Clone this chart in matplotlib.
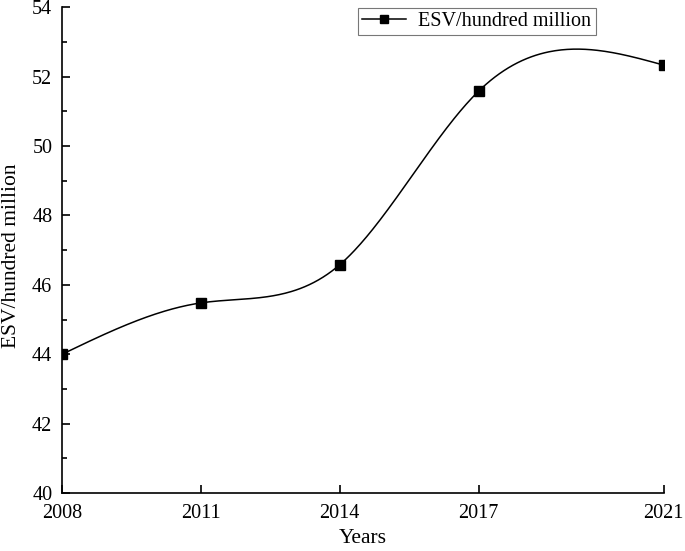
import numpy as np
import matplotlib.pyplot as plt
from matplotlib.ticker import MultipleLocator

years = [2008, 2011, 2014, 2017, 2021]
esv = [44.0, 45.48, 46.58, 51.58, 52.33]


def natural_spline(x, y, xs):
    # plain natural cubic spline, like Origin's "Spline" connection
    x = np.asarray(x, float)
    y = np.asarray(y, float)
    n = len(x)
    h = np.diff(x)
    A = np.zeros((n, n))
    b = np.zeros(n)
    A[0, 0] = 1
    A[-1, -1] = 1
    for i in range(1, n - 1):
        A[i, i - 1] = h[i - 1]
        A[i, i] = 2 * (h[i - 1] + h[i])
        A[i, i + 1] = h[i]
        b[i] = 3 * ((y[i + 1] - y[i]) / h[i] - (y[i] - y[i - 1]) / h[i - 1])
    c = np.linalg.solve(A, b)
    out = np.empty_like(xs)
    for k, t in enumerate(xs):
        i = min(np.searchsorted(x, t, side="right") - 1, n - 2)
        i = max(i, 0)
        dx = t - x[i]
        bb = (y[i + 1] - y[i]) / h[i] - h[i] * (2 * c[i] + c[i + 1]) / 3
        d = (c[i + 1] - c[i]) / (3 * h[i])
        out[k] = y[i] + bb * dx + c[i] * dx ** 2 + d * dx ** 3
    return out


plt.rcParams['font.family'] = ['Liberation Serif', 'DejaVu Serif']

fig = plt.figure(figsize=(6.85, 5.51), dpi=100)
ax = fig.add_axes([0.0905, 0.105, 0.8785, 0.882])

xs = np.linspace(years[0], years[-1], 400)
ax.plot(xs, natural_spline(years, esv, xs), color='black', lw=1.1)
ax.plot(years, esv, 's', color='black', ms=7)
# legend handle: line with marker
ax.plot([], [], '-s', color='black', lw=1.1, ms=6, label='ESV/hundred million')

ax.set_xlim(2008, 2021)
ax.set_ylim(40, 54)
ax.set_xticks(years)
ax.yaxis.set_major_locator(MultipleLocator(2))
ax.yaxis.set_minor_locator(MultipleLocator(1))
ax.tick_params(which='both', direction='in', labelsize=14.5, width=1.2)
ax.tick_params(which='major', length=6)
ax.tick_params(which='minor', length=3.5)
ax.tick_params(axis='y', pad=7)
ax.tick_params(axis='x', pad=8)

for s in ['top', 'right']:
    ax.spines[s].set_visible(False)
for s in ['left', 'bottom']:
    ax.spines[s].set_linewidth(1.2)

ax.set_xlabel('Years', fontsize=15.5, labelpad=4)
ax.set_ylabel('ESV/hundred million', fontsize=15.5)
ax.yaxis.set_label_coords(-0.068, 0.488)

leg = ax.legend(loc='upper left', bbox_to_anchor=(0.492, 0.998), borderaxespad=0,
                fancybox=False, fontsize=14.5, handlelength=2.2, borderpad=0.2,
                handletextpad=0.6)
leg.get_frame().set_edgecolor('#555555')
leg.get_frame().set_linewidth(0.8)

fig.savefig('out.png', dpi=100)
